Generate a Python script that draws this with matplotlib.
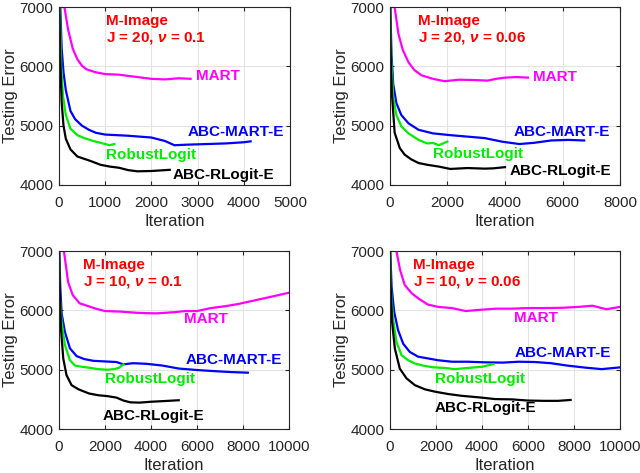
import matplotlib
matplotlib.use("Agg")
import matplotlib.pyplot as plt

plt.rcParams['font.family'] = ['Liberation Sans', 'DejaVu Sans']
plt.rcParams['mathtext.fontset'] = 'custom'
plt.rcParams['mathtext.rm'] = 'Liberation Sans:bold'
plt.rcParams['mathtext.it'] = 'Liberation Sans:italic:bold'
plt.rcParams['mathtext.bf'] = 'Liberation Sans:bold'

# ---------- Panel 1: J = 20, nu = 0.1 ----------
p1_mart_x = [120, 200, 300, 400, 500, 600, 800, 1000, 1300, 1600, 2000, 2300, 2600, 2850]
p1_mart_y = [7000, 6620, 6300, 6120, 6010, 5950, 5900, 5870, 5860, 5830, 5790, 5780, 5800, 5790]
p1_abcm_x = [30, 60, 100, 150, 250, 350, 500, 650, 800, 1000, 1500, 2000, 2300, 2500, 2800, 3200, 3600, 4000, 4150]
p1_abcm_y = [7000, 6300, 5900, 5600, 5250, 5110, 5000, 4930, 4880, 4850, 4830, 4800, 4740, 4670, 4680, 4690, 4700, 4720, 4735]
p1_rl_x = [20, 50, 90, 150, 250, 400, 550, 750, 1000, 1100, 1200]
p1_rl_y = [7000, 6000, 5500, 5180, 4950, 4840, 4790, 4740, 4690, 4670, 4690]
p1_abcr_x = [10, 30, 60, 100, 150, 250, 400, 550, 700, 900, 1100, 1300, 1500, 1700, 2000, 2200, 2400]
p1_abcr_y = [7000, 6100, 5400, 5000, 4780, 4600, 4480, 4440, 4400, 4340, 4310, 4290, 4250, 4230, 4235, 4245, 4255]

# ---------- Panel 2: J = 20, nu = 0.06 ----------
p2_mart_x = [170, 300, 450, 650, 850, 1100, 1500, 1900, 2400, 2900, 3400, 3700, 4000, 4400, 4800]
p2_mart_y = [7000, 6550, 6280, 6070, 5940, 5850, 5790, 5750, 5775, 5770, 5760, 5790, 5810, 5820, 5810]
p2_abcm_x = [20, 60, 120, 230, 400, 650, 1000, 1500, 2100, 2700, 3300, 3900, 4500, 5000, 5600, 6200, 6750]
p2_abcm_y = [7000, 6200, 5700, 5380, 5180, 5040, 4930, 4870, 4840, 4815, 4790, 4730, 4690, 4710, 4750, 4760, 4750]
p2_rl_x = [15, 50, 120, 230, 400, 650, 1000, 1300, 1500, 1700, 1850, 2000]
p2_rl_y = [7000, 6100, 5480, 5180, 4990, 4870, 4760, 4700, 4710, 4670, 4700, 4730]
p2_abcr_x = [10, 40, 80, 170, 350, 520, 750, 1000, 1300, 1700, 2100, 2700, 3300, 3600, 4000]
p2_abcr_y = [7000, 6000, 5500, 4880, 4620, 4510, 4430, 4370, 4340, 4310, 4270, 4285, 4275, 4280, 4300]

# ---------- Panel 3: J = 10, nu = 0.1 ----------
p3_mart_x = [220, 400, 600, 900, 1300, 1600, 2000, 2700, 3400, 4200, 5000, 5500, 6000, 6600, 7200, 7800, 8500, 9200, 10000]
p3_mart_y = [7000, 6480, 6260, 6120, 6070, 6030, 5990, 5980, 5960, 5950, 5970, 5990, 5990, 6040, 6070, 6110, 6170, 6230, 6300]
p3_abcm_x = [15, 60, 120, 260, 480, 770, 1100, 1500, 2000, 2500, 2800, 3200, 3800, 4500, 5200, 6000, 6800, 7500, 8200]
p3_abcm_y = [7000, 6400, 5950, 5640, 5360, 5230, 5180, 5150, 5140, 5130, 5090, 5110, 5100, 5070, 5020, 4995, 4975, 4960, 4950]
p3_rl_x = [10, 50, 120, 260, 480, 700, 1000, 1300, 1700, 2100, 2400, 2600, 2800]
p3_rl_y = [7000, 6200, 5800, 5420, 5160, 5070, 5050, 5035, 5010, 5000, 5010, 5030, 5090]
p3_abcr_x = [10, 40, 90, 190, 330, 550, 850, 1300, 1700, 2100, 2500, 2800, 3100, 3500, 4000, 4500, 5200]
p3_abcr_y = [7000, 6300, 5700, 5190, 4910, 4740, 4670, 4600, 4570, 4555, 4530, 4480, 4450, 4445, 4460, 4470, 4485]

# ---------- Panel 4: J = 10, nu = 0.06 ----------
p4_mart_x = [290, 450, 650, 950, 1250, 1650, 2100, 2700, 3300, 3900, 4600, 5300, 6000, 6700, 7500, 8200, 8800, 9400, 10000]
p4_mart_y = [7000, 6680, 6430, 6290, 6200, 6100, 6060, 6040, 5990, 6010, 6030, 6030, 6040, 6040, 6045, 6060, 6080, 6020, 6060]
p4_abcm_x = [20, 80, 190, 360, 580, 870, 1230, 1670, 2100, 2700, 3400, 4100, 4900, 5600, 6300, 7000, 7700, 8500, 9200, 10000]
p4_abcm_y = [7000, 6400, 5980, 5670, 5440, 5300, 5220, 5190, 5160, 5135, 5135, 5125, 5120, 5135, 5130, 5110, 5070, 5035, 5010, 5040]
p4_rl_x = [15, 60, 145, 290, 510, 800, 1090, 1500, 1900, 2400, 2800, 3400, 4000, 4500]
p4_rl_y = [7000, 6300, 5860, 5470, 5245, 5160, 5105, 5065, 5040, 5030, 5010, 5030, 5050, 5095]
p4_abcr_x = [10, 40, 100, 220, 435, 725, 1090, 1520, 1960, 2540, 3120, 3840, 4570, 5290, 6000, 6700, 7300, 7850]
p4_abcr_y = [7000, 6400, 5810, 5360, 5020, 4855, 4740, 4670, 4630, 4590, 4560, 4535, 4505, 4500, 4480, 4475, 4475, 4490]

titles = [r"J = 20, $\nu$ = 0.1", r"J = 20, $\nu$ = 0.06", r"J = 10, $\nu$ = 0.1", r"J = 10, $\nu$ = 0.06"]
xmax = [5000, 8000, 10000, 10000]
xtick_step = [1000, 2000, 2000, 2000]
yticks = [4000, 5000, 6000, 7000]

series = [
    [(p1_mart_x, p1_mart_y), (p1_abcm_x, p1_abcm_y), (p1_rl_x, p1_rl_y), (p1_abcr_x, p1_abcr_y)],
    [(p2_mart_x, p2_mart_y), (p2_abcm_x, p2_abcm_y), (p2_rl_x, p2_rl_y), (p2_abcr_x, p2_abcr_y)],
    [(p3_mart_x, p3_mart_y), (p3_abcm_x, p3_abcm_y), (p3_rl_x, p3_rl_y), (p3_abcr_x, p3_abcr_y)],
    [(p4_mart_x, p4_mart_y), (p4_abcm_x, p4_abcm_y), (p4_rl_x, p4_rl_y), (p4_abcr_x, p4_abcr_y)],
]
names = ["MART", "ABC-MART-E", "RobustLogit", "ABC-RLogit-E"]
colors = ["#ff00ff", "#0000ff", "#00ee00", "#000000"]
# label anchor positions (data coords, left aligned)
label_pos = [
    [(2970, 5830), (2790, 4890), (1017, 4504), (2470, 4167)],
    [(4970, 5820), (4290, 4890), (1500, 4520), (4170, 4235)],
    [(5435, 5853), (5480, 5162), (2000, 4840), (1913, 4218)],
    [(5390, 5870), (5435, 5280), (1960, 4840), (1960, 4350)],
]
title_xfrac = [0.203, 0.122, 0.104, 0.10]

fig = plt.figure(figsize=(6.4, 4.73), dpi=100)
ax_rects = [
    [0.092, 0.609, 0.361, 0.376],
    [0.609, 0.609, 0.360, 0.376],
    [0.092, 0.093, 0.360, 0.376],
    [0.609, 0.093, 0.360, 0.376],
]
tick_color = "#262626"
for i in range(4):
    ax = fig.add_axes(ax_rects[i])
    for (xs, ys), c in zip(series[i], colors):
        ax.plot(xs, ys, color=c, lw=1.6, solid_joinstyle='round')
    ax.set_xlim(0, xmax[i])
    ax.set_ylim(4000, 7000)
    ax.set_xticks(list(range(0, xmax[i] + 1, xtick_step[i])))
    ax.set_yticks(yticks)
    ax.grid(True, color="#e3e3e3", lw=0.8)
    ax.set_axisbelow(True)
    ax.tick_params(direction='in', length=3, labelsize=11, colors=tick_color,
                   top=True, right=True)
    ax.tick_params(axis='x', pad=8)
    ax.tick_params(axis='y', pad=4)
    for sp in ax.spines.values():
        sp.set_color(tick_color)
        sp.set_linewidth(0.8)
    ax.set_xlabel("Iteration", fontsize=12, color=tick_color, labelpad=3)
    ax.set_ylabel("Testing Error", fontsize=12, color=tick_color, labelpad=1)
    ax.text(title_xfrac[i], 0.922, "M-Image", transform=ax.transAxes, color="#ff0000",
            fontsize=11, fontweight='bold', ha='left', va='center')
    ax.text(title_xfrac[i], 0.826, titles[i], transform=ax.transAxes, color="#ff0000",
            fontsize=11, fontweight='bold', ha='left', va='center')
    for (lx, ly), nm, c in zip(label_pos[i], names, colors):
        ax.text(lx, ly, nm, color=c, fontsize=11, fontweight='bold',
                ha='left', va='center', clip_on=False)

fig.savefig("out.png", dpi=100)
